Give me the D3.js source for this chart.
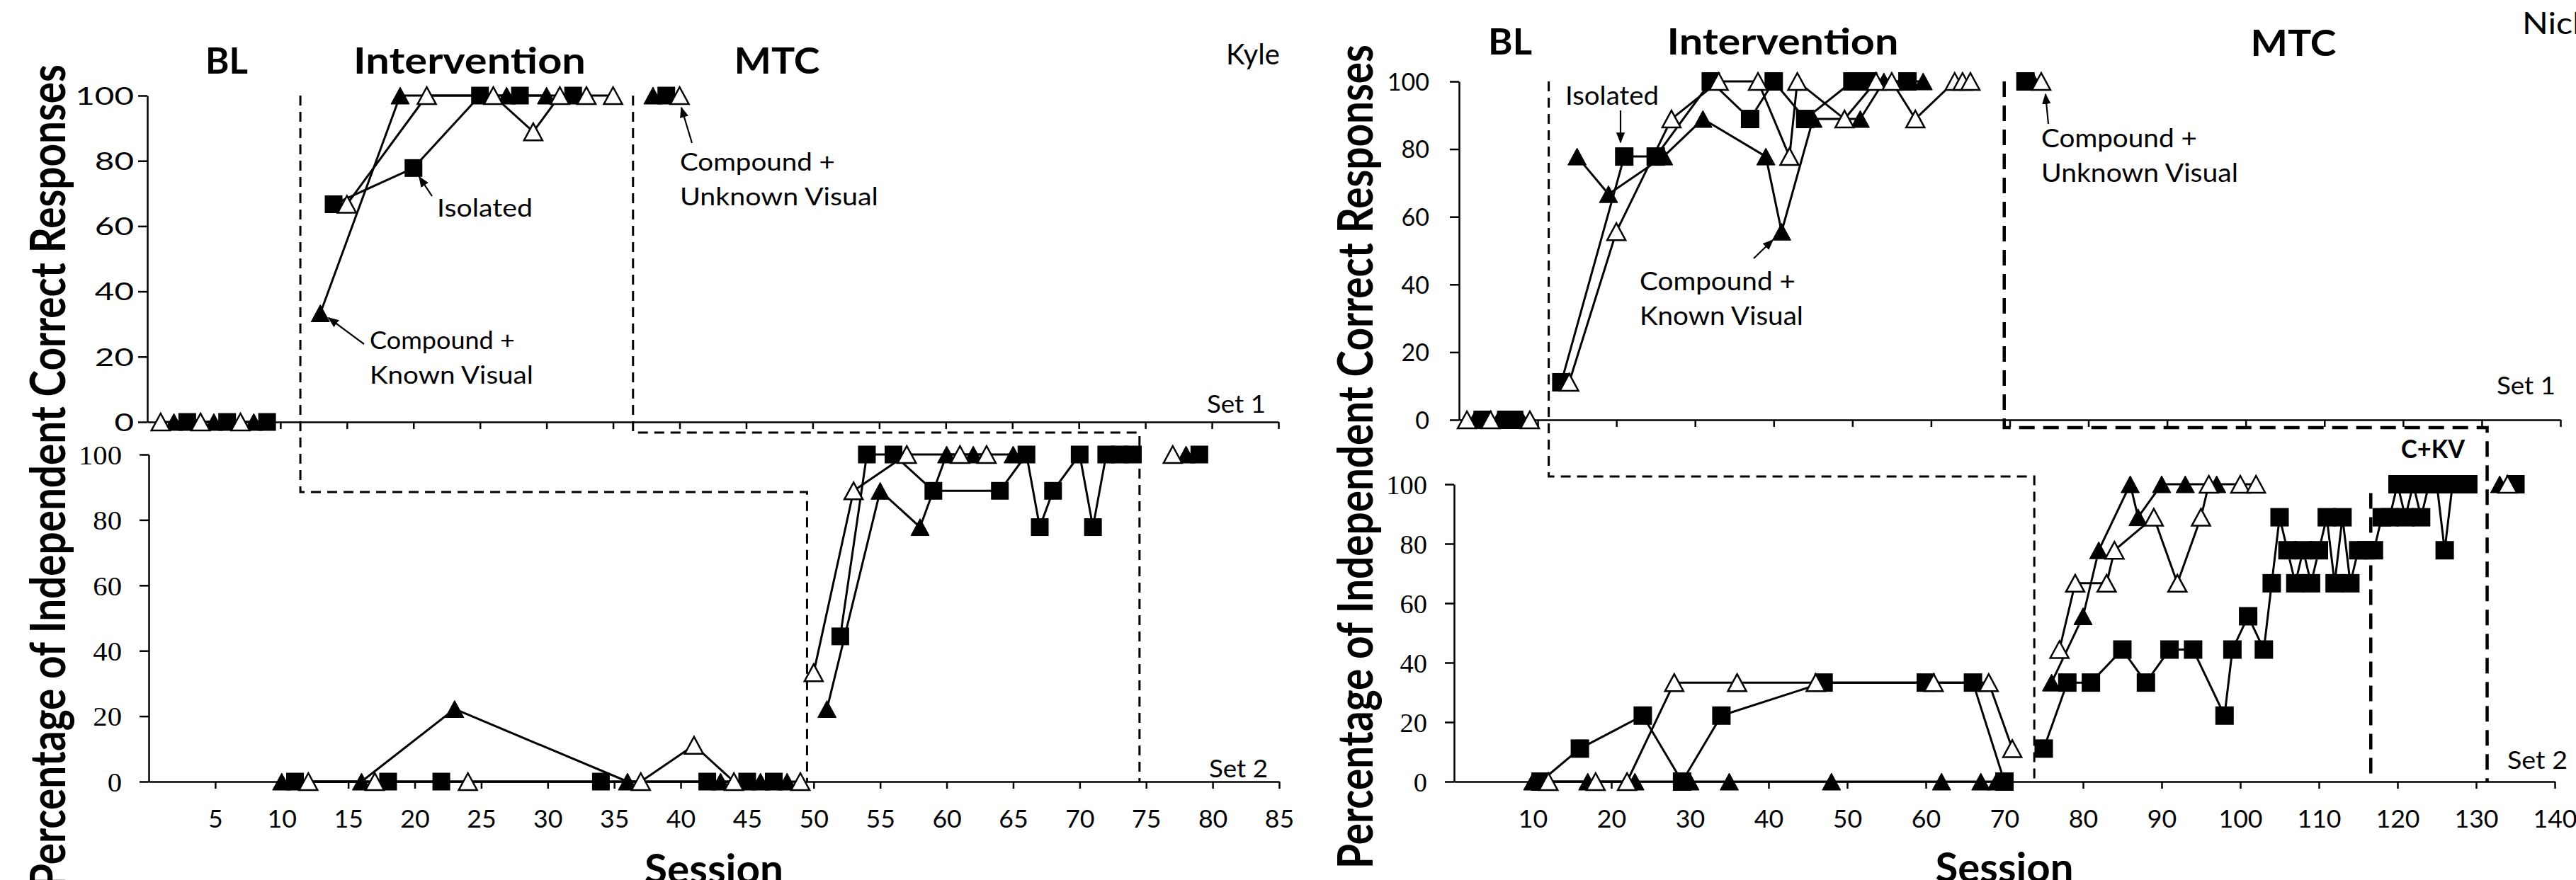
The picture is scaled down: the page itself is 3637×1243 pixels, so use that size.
<!DOCTYPE html>
<html lang="en">
<head>
<meta charset="utf-8">
<title>Kyle and Nick - percentage of independent correct responses</title>
<script src="https://cdn.jsdelivr.net/npm/d3@7"></script>
<style>
  body { margin: 0; background: #fff; }
  svg { display: block; }
</style>
</head>
<body>
<svg id="chart" width="3637" height="1243"></svg>
<script>
// [session, percent]; null = phase change (line break)
const kyleIso1 = [[3,0],[6,0],[9,0],null,[14,66.7],[20,77.8],[25,100],[28,100],[32,100],null,[39,100]];
const kyleCkv1 = [[2,0],[5,0],[8,0],null,[13,33.3],[19,100],[27,100],[30,100],null,[38,100]];
const kyleCuv1 = [[1,0],[4,0],[7,0],null,[15,66.7],[21,100],[26,100],[29,88.9],[31,100],[33,100],[35,100],null,[40,100]];

const kyleIso2 = [[11,0],[18,0],[22,0],[34,0],[42,0],[45,0],[47,0],null,[52,44.4],[54,100],[56,100],[59,88.9],[64,88.9],[66,100],[67,77.8],[68,88.9],[70,100],[71,77.8],[72,100],[73,100],[74,100],null,[79,100]];
const kyleCkv2 = [[10,0],[16,0],[23,22.2],[36,0],[43,0],[46,0],[48,0],null,[51,22.2],[55,88.9],[58,77.8],[60,100],[62,100],[65,100],null,[78,100]];
const kyleCuv2 = [[12,0],[17,0],[24,0],[37,0],[41,11.1],[44,0],[49,0],null,[50,33.3],[53,88.9],[57,100],[61,100],[63,100],null,[77,100]];

const nickIso1 = [[3,0],[6,0],[7,0],null,[13,11.1],[21,77.8],[25,77.8],[32,100],[37,88.9],[40,100],[44,88.9],[50,100],[52,100],[57,100],null,[72,100]];
const nickCkv1 = [[2,0],[5,0],[8,0],null,[15,77.8],[19,66.7],[26,77.8],[31,88.9],[39,77.8],[41,55.6],[45,88.9],[51,88.9],[54,100],[59,100],null,[73,100]];
const nickCuv1 = [[1,0],[4,0],[9,0],null,[14,11.1],[20,55.6],[27,88.9],[33,100],[38,100],[42,77.8],[43,100],[49,88.9],[53,100],[55,100],[58,88.9],[63,100],[64,100],[65,100],null,[74,100]];

const nickIso2 = [[11,0],[16,11.1],[24,22.2],[29,0],[34,22.2],[47,33.3],[60,33.3],[66,33.3],[70,0],null,
  [75,11.1],[78,33.3],[81,33.3],[85,44.4],[88,33.3],[91,44.4],[94,44.4],[98,22.2],[99,44.4],[101,55.6],[103,44.4],[104,66.7],[105,88.9],
  [106,77.8],[107,66.7],[108,77.8],[109,66.7],[110,77.8],[111,88.9],[112,66.7],[113,88.9],[114,66.7],[115,77.8],[116,77.8],null,
  [117,77.8],[118,88.9],[119,88.9],[120,100],[121,88.9],[122,100],[123,88.9],[124,100],[125,100],[126,77.8],[127,100],[128,100],[129,100],null,[135,100]];
const nickCkv2 = [[10,0],[17,0],[23,0],[30,0],[35,0],[48,0],[62,0],[67,0],[69,0],null,[76,33.3],[80,55.6],[82,77.8],[86,100],[87,88.9],[90,100],[93,100],[97,100],null,[133,100]];
const nickCuv2 = [[12,0],[18,0],[22,0],[28,33.3],[36,33.3],[46,33.3],[61,33.3],[68,33.3],[71,11.1],null,[77,44.4],[79,66.7],[83,66.7],[84,77.8],[89,88.9],[92,66.7],[95,88.9],[96,100],[100,100],[102,100],null,[134,100]];

// phase change points (session units)
const kylePhases1 = [11.5, 36.5];
const kylePhases2 = [49.5, 74.5];
const nickPhases1 = [11.4, 69.3];
const nickPhases2 = [73.8, 131.4];
const nickCkvPhase = 116.6;

const yTicks = [0, 20, 40, 60, 80, 100];
const kyleXTicks = d3.range(5, 86, 5);
const nickXTicks = d3.range(10, 141, 10);

var svg = d3.select("#chart");
svg.append("rect").attr("width", 3637).attr("height", 1243).attr("fill", "#fff");

// scales
var kx1 = d3.scaleLinear().domain([0, 85]).range([208, 1805]),
    ky1 = d3.scaleLinear().domain([0, 100]).range([596, 135]),
    kx2 = d3.scaleLinear().domain([0, 85]).range([210, 1806]),
    ky2 = d3.scaleLinear().domain([0, 100]).range([1104, 642]),
    nx1 = d3.scaleLinear().domain([0, 140]).range([2060, 3615]),
    ny1 = d3.scaleLinear().domain([0, 100]).range([593, 115]),
    nx2 = d3.scaleLinear().domain([0, 140]).range([2053, 3607]),
    ny2 = d3.scaleLinear().domain([0, 100]).range([1104, 684]);

// text helper: Calibri-like text stretched horizontally like the original figure
function txt(str, x, y, o) {
  o = o || {};
  var g = svg.append("g");
  var t = g.append("text").text(str)
    .attr("font-family", o.family || "Lato")
    .attr("font-size", o.size || 33)
    .attr("font-weight", o.bold ? 700 : 400)
    .attr("text-anchor", o.anchor || "start")
    .attr("fill", "#000");
  var sx = o.sx || 1.2;
  if (o.width) sx = o.width / t.node().getComputedTextLength();
  g.attr("transform", "translate(" + x + "," + y + ") scale(" + sx + ",1)" + (o.rotate ? " rotate(" + o.rotate + ")" : ""));
  return t;
}

function yAxis(x, y, o) {
  var g = svg.append("g")
    .attr("transform", "translate(" + x(0) + ",0)")
    .call(d3.axisLeft(y).tickValues(yTicks).tickSize(13).tickSizeOuter(0));
  g.select(".domain").attr("stroke-width", 2.5);
  g.selectAll(".tick line").attr("stroke-width", 2.5);
  g.selectAll(".tick text")
    .attr("font-family", o.family).attr("font-size", o.size)
    .attr("x", -o.gap / o.sx).attr("dy", "0.36em")
    .attr("transform", "scale(" + o.sx + ",1)");
}

function xAxis(x, y, ticks, labels) {
  var g = svg.append("g")
    .attr("transform", "translate(0," + y(0) + ")")
    .call(d3.axisBottom(x).tickValues(ticks).tickSize(10).tickSizeOuter(0)
      .tickFormat(labels ? d3.format("d") : ""));
  g.select(".domain").attr("stroke-width", 2.5);
  g.selectAll(".tick line").attr("stroke-width", 2.5);
  g.selectAll(".tick text")
    .attr("font-family", "Lato").attr("font-size", 34)
    .attr("y", 65).attr("dy", 0)
    .attr("transform", "scale(1.05,1)");
}

function phaseLine(pts, w, dash) {
  svg.append("path")
    .attr("d", d3.line()(pts))
    .attr("fill", "none").attr("stroke", "#000")
    .attr("stroke-width", w).attr("stroke-dasharray", dash);
}

function dataLine(data, x, y) {
  svg.append("path").datum(data)
    .attr("d", d3.line().defined(d => d).x(d => x(d[0])).y(d => y(d[1])))
    .attr("fill", "none").attr("stroke", "#000").attr("stroke-width", 3)
    .attr("stroke-linejoin", "round");
}

function squares(data, x, y, s) {
  svg.append("g").selectAll("rect")
    .data(data.filter(d => d))
    .enter().append("rect")
    .attr("x", d => x(d[0]) - s / 2).attr("y", d => y(d[1]) - s / 2)
    .attr("width", s).attr("height", s)
    .attr("fill", "#000");
}

function triangles(data, x, y, open) {
  var w = 26, h = 24;
  svg.append("g").selectAll("path")
    .data(data.filter(d => d))
    .enter().append("path")
    .attr("transform", d => "translate(" + x(d[0]) + "," + y(d[1]) + ")")
    .attr("d", "M0," + (-h / 2) + "L" + (w / 2) + "," + (h / 2) + "L" + (-w / 2) + "," + (h / 2) + "Z")
    .attr("fill", open ? "#fff" : "#000")
    .attr("stroke", "#000").attr("stroke-width", open ? 2.5 : 1)
    .attr("stroke-linejoin", "miter");
}

// arrow head
svg.append("defs").append("marker")
  .attr("id", "arrow").attr("viewBox", "0 0 10 8")
  .attr("refX", 9).attr("refY", 4)
  .attr("markerWidth", 7).attr("markerHeight", 6)
  .attr("markerUnits", "strokeWidth").attr("orient", "auto")
  .append("path").attr("d", "M0,0L10,4L0,8Z").attr("fill", "#000");

function arrow(x1, y1, x2, y2) {
  svg.append("line")
    .attr("x1", x1).attr("y1", y1).attr("x2", x2).attr("y2", y2)
    .attr("stroke", "#000").attr("stroke-width", 2.2)
    .attr("marker-end", "url(#arrow)");
}

// ---------- axes ----------
yAxis(kx1, ky1, { family: "Lato", size: 34, sx: 1.4, gap: 19 });
xAxis(kx1, ky1, kyleXTicks, false);
yAxis(kx2, ky2, { family: "Liberation Serif", size: 37, sx: 1.1, gap: 38 });
xAxis(kx2, ky2, kyleXTicks, true);

yAxis(nx1, ny1, { family: "Lato", size: 34, sx: 1.0, gap: 42 });
xAxis(nx1, ny1, nickXTicks, false);
yAxis(nx2, ny2, { family: "Liberation Serif", size: 37, sx: 1.04, gap: 38 });
xAxis(nx2, ny2, nickXTicks, true);

// ---------- phase change lines ----------
phaseLine([[kx1(kylePhases1[0]), ky1(100)], [kx1(kylePhases1[0]), 695], [kx2(kylePhases2[0]), 695], [kx2(kylePhases2[0]), ky2(0)]], 3, "14,9");
phaseLine([[kx1(kylePhases1[1]), ky1(100)], [kx1(kylePhases1[1]), 611], [kx2(kylePhases2[1]), 611], [kx2(kylePhases2[1]), ky2(0)]], 3, "14,9");
phaseLine([[nx1(nickPhases1[0]), ny1(100)], [nx1(nickPhases1[0]), 673], [nx2(nickPhases2[0]), 673], [nx2(nickPhases2[0]), ny2(0)]], 3, "14,9");
phaseLine([[nx1(nickPhases1[1]), ny1(100)], [nx1(nickPhases1[1]), 604], [nx2(nickPhases2[1]), 604], [nx2(nickPhases2[1]), ny2(0)]], 4.5, "22,12");
phaseLine([[nx2(nickCkvPhase), ny2(97)], [nx2(nickCkvPhase), ny2(0)]], 4.5, "22,12");

// ---------- data ----------
[[kyleIso1, kx1, ky1], [kyleCkv1, kx1, ky1], [kyleCuv1, kx1, ky1],
 [kyleIso2, kx2, ky2], [kyleCkv2, kx2, ky2], [kyleCuv2, kx2, ky2],
 [nickIso1, nx1, ny1], [nickCkv1, nx1, ny1], [nickCuv1, nx1, ny1],
 [nickIso2, nx2, ny2], [nickCkv2, nx2, ny2], [nickCuv2, nx2, ny2]]
  .forEach(s => dataLine(s[0], s[1], s[2]));

squares(kyleIso1, kx1, ky1, 25);
squares(kyleIso2, kx2, ky2, 25);
squares(nickIso1, nx1, ny1, 26);
squares(nickIso2, nx2, ny2, 26);
triangles(kyleCkv1, kx1, ky1, false);
triangles(kyleCkv2, kx2, ky2, false);
triangles(nickCkv1, nx1, ny1, false);
triangles(nickCkv2, nx2, ny2, false);
triangles(kyleCuv1, kx1, ky1, true);
triangles(kyleCuv2, kx2, ky2, true);
triangles(nickCuv1, nx1, ny1, true);
triangles(nickCuv2, nx2, ny2, true);

// ---------- text ----------
txt("BL", 320, 104, { size: 51, bold: true, anchor: "middle", width: 60 });
txt("Intervention", 663, 104, { size: 51, bold: true, anchor: "middle", width: 328 });
txt("MTC", 1097, 104, { size: 51, bold: true, anchor: "middle", width: 121 });
txt("Kyle", 1731, 91, { size: 40, width: 76 });
txt("BL", 2132, 77, { size: 51, bold: true, anchor: "middle", width: 62 });
txt("Intervention", 2517, 77, { size: 51, bold: true, anchor: "middle", width: 327 });
txt("MTC", 3238, 79, { size: 51, bold: true, anchor: "middle", width: 121 });
txt("Nick", 3561, 48, { size: 42, sx: 1.15 });

txt("Set 1", 1787, 583, { size: 35, anchor: "end", width: 83 });
txt("Set 2", 1790, 1098, { size: 35, anchor: "end", width: 83 });
txt("Set 1", 3608, 557, { size: 35, anchor: "end", width: 83 });
txt("Set 2", 3625, 1086, { size: 35, anchor: "end", width: 85 });
txt("C+KV", 3435, 647, { size: 36, bold: true, anchor: "middle", width: 90 });

txt("Session", 1008, 1248, { size: 58, bold: true, anchor: "middle", width: 196 });
txt("Session", 2830, 1246, { size: 58, bold: true, anchor: "middle", width: 195 });

// y axis titles: fit length, glyphs stretched like the original
[[92, 673], [1938, 645]].forEach(p => {
  var t = txt("Percentage of Independent Correct Responses", p[0], p[1],
    { size: 50, bold: true, anchor: "middle", sx: 1.22, rotate: -90 });
  var len = t.node().getComputedTextLength();
  t.attr("font-size", 50 * 1164 / len);
});

// annotations - Kyle
txt("Isolated", 617, 306, { size: 35, width: 135 });
arrow(610, 277, 592, 250);
txt("Compound +", 522, 493, { size: 35, width: 205 });
txt("Known Visual", 522, 542, { size: 35, width: 231 });
arrow(514, 486, 464, 449);
txt("Compound +", 960, 241, { size: 35, width: 219 });
txt("Unknown Visual", 960, 290, { size: 35, width: 280 });
arrow(977, 202, 962, 152);

// annotations - Nick
txt("Isolated", 2210, 148, { size: 36, width: 132 });
arrow(2288, 156, 2288, 201);
txt("Compound +", 2315, 410, { size: 36, width: 220 });
txt("Known Visual", 2315, 459, { size: 36, width: 231 });
arrow(2476, 365, 2503, 339);
txt("Compound +", 2882, 208, { size: 36, width: 220 });
txt("Unknown Visual", 2882, 257, { size: 36, width: 278 });
arrow(2892, 175, 2888, 133);
</script>
</body>
</html>
